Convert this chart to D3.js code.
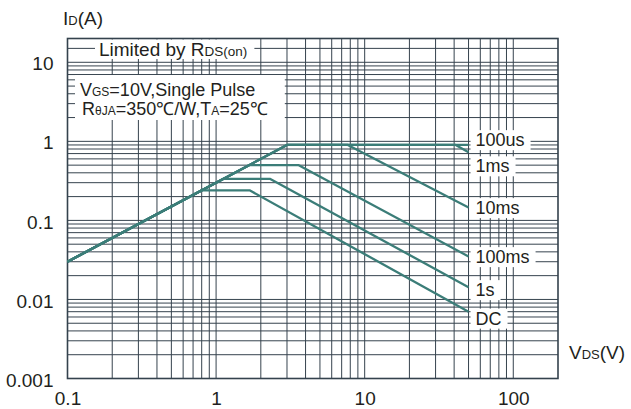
<!DOCTYPE html>
<html>
<head>
<meta charset="utf-8">
<script src="https://cdn.jsdelivr.net/npm/d3@7"></script>
<style>
  body { margin: 0; background: #fff; }
  svg { display: block; }
  text { font-family: "Liberation Sans", Arial, sans-serif; fill: #231f20; }
</style>
</head>
<body>
<svg id="chart" width="631" height="409"></svg>
<script>
// Safe operating area: drain current vs drain-source voltage (log-log)
const xTicks = [0.1, 1, 10, 100];
const xTickLabels = ["0.1", "1", "10", "100"];
const yTicks = [0.001, 0.01, 0.1, 1, 10];
const yTickLabels = ["0.001", "0.01", "0.1", "1", "10"];

const seriesNames = ["100us", "1ms", "10ms", "100ms", "1s", "DC"];
// break points of each boundary: VDS (V) and ID (A)
const seriesVds = [
  [0.1, 3, 50],
  [0.1, 3, 41, 50],
  [0.1, 3, 7.7, 50],
  [0.1, 1.67, 3.6, 50],
  [0.1, 1.12, 2.3, 50],
  [0.1, 0.8, 1.68, 50]
];
const seriesId = [
  [0.03, 0.9, 0.9],
  [0.03, 0.9, 0.9, 0.73],
  [0.03, 0.9, 0.9, 0.146],
  [0.03, 0.5, 0.5, 0.035],
  [0.03, 0.336, 0.336, 0.0143],
  [0.03, 0.24, 0.24, 0.007]
];
// current level at which each curve name is written beside the curve end
const labelId = [1.05, 0.49, 0.145, 0.0348, 0.0133, 0.0058];
const rdsLimitId = 15;

const svg = d3.select("#chart");
const x = d3.scaleLog().domain([0.1, 200]).range([67.5, 558]);
const y = d3.scaleLog().domain([0.001, 20]).range([378.5, 38.5]);
const [x0, x1] = x.range();
const [y0, y1] = y.range();

const gridColor = "#36434e";
const curveColor = "#3b7d78";

// log grid
const g = svg.append("g");
g.selectAll("line.vx").data(x.ticks().filter(v => v > 0.1 && v < 200))
  .join("line").attr("class", "vx")
  .attr("x1", d => x(d)).attr("x2", d => x(d))
  .attr("y1", y1).attr("y2", y0)
  .attr("stroke", gridColor).attr("stroke-width", 1);
g.selectAll("line.hy").data(y.ticks().filter(v => v > 0.001 && v < 20))
  .join("line").attr("class", "hy")
  .attr("x1", x0).attr("x2", x1)
  .attr("y1", d => y(d)).attr("y2", d => y(d))
  .attr("stroke", gridColor).attr("stroke-width", 1);

// RDS(on) limit marker line
g.append("line")
  .attr("x1", x0).attr("x2", x1)
  .attr("y1", y(rdsLimitId)).attr("y2", y(rdsLimitId))
  .attr("stroke", gridColor).attr("stroke-width", 1);

function addRich(parent, parts, xPos, yPos, size, subSize) {
  const t = parent.append("text").attr("x", xPos).attr("y", yPos).style("font-size", size + "px");
  parts.forEach(p => {
    const s = t.append("tspan").text(p[0]);
    if (p[1]) s.style("font-size", subSize + "px");
  });
  return t;
}

// annotation: Limited by RDS(on)
const limG = svg.append("g");
const limBox = limG.append("rect").attr("fill", "#fff");
const limText = addRich(limG, [["Limited by R"], ["DS(on)", 1]], 99, 56, 19, 13.5);
let bb = limText.node().getBBox();
limBox.attr("x", bb.x - 4).attr("y", y1 + 1).attr("width", bb.width + 11).attr("height", bb.y + bb.height - y1 - 2);

// annotation: test conditions
const condG = svg.append("g");
const condBox = condG.append("rect").attr("fill", "#fff");
const c1 = addRich(condG, [["V"], ["GS", 1], ["=10V,Single Pulse"]], 80, 95.5, 18, 12);
const c2 = addRich(condG, [["R"], ["θJA", 1], ["=350℃/W,T"], ["A", 1], ["=25℃"]], 82, 115, 18, 12);
const b1 = c1.node().getBBox(), b2 = c2.node().getBBox();
const cx0 = Math.min(b1.x, b2.x) - 5, cx1 = Math.max(b1.x + b1.width, b2.x + b2.width) + 17;
condBox.attr("x", cx0).attr("y", 75).attr("width", cx1 - cx0).attr("height", 45);

// frame
svg.append("rect")
  .attr("x", x0).attr("y", y1).attr("width", x1 - x0).attr("height", y0 - y1)
  .attr("fill", "none").attr("stroke", "#34424d").attr("stroke-width", 1.6);

// SOA curves
const line = d3.line().x(d => x(d[0])).y(d => y(d[1]));
svg.append("g").selectAll("path").data(seriesNames)
  .join("path")
  .attr("d", (n, i) => line(seriesVds[i].map((v, k) => [v, seriesId[i][k]])))
  .attr("fill", "none").attr("stroke", curveColor).attr("stroke-width", 2.3)
  .attr("stroke-linejoin", "round");

// curve names
const lab = svg.append("g").selectAll("g").data(seriesNames).join("g");
lab.each(function (n, i) {
  const gg = d3.select(this);
  const r = gg.append("rect").attr("fill", "#fff");
  const endX = x(seriesVds[i][seriesVds[i].length - 1]);
  const t = gg.append("text").attr("x", endX + 7).attr("y", y(labelId[i]))
    .attr("dy", "0.36em").style("font-size", "18px").text(n);
  const b = t.node().getBBox();
  r.attr("x", endX + 2).attr("y", b.y).attr("width", b.x + b.width + 6 - endX - 2).attr("height", b.height);
});

// axes
const xAxis = d3.axisBottom(x).tickValues(xTicks)
  .tickFormat((d, i) => xTickLabels[i]).tickSize(0).tickPadding(13);
const ax = svg.append("g").attr("transform", `translate(0,${y0})`).call(xAxis);
ax.select(".domain").remove();
ax.selectAll("text").style("font-size", "19px").attr("fill", "#231f20");

const yAxis = d3.axisLeft(y).tickValues(yTicks)
  .tickFormat((d, i) => yTickLabels[i]).tickSize(0).tickPadding(14);
const ay = svg.append("g").attr("transform", `translate(${x0},0)`).call(yAxis);
ay.select(".domain").remove();
ay.selectAll("text").style("font-size", "19px").attr("dy", "0.4em").attr("fill", "#231f20");

// axis titles
addRich(svg, [["I"], ["D", 1], ["(A)"]], 63, 25, 19, 13);
addRich(svg, [["V"], ["DS", 1], ["(V)"]], 569, 359, 19, 13);
</script>
</body>
</html>
